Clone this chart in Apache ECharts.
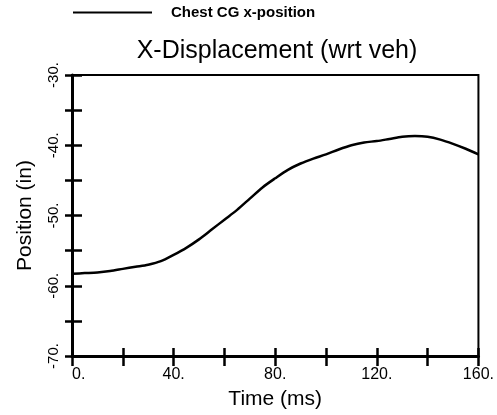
<!DOCTYPE html>
<head>
    <meta charset="utf-8">
    <title>X-Displacement</title>
    <script src="https://cdn.jsdelivr.net/npm/echarts@6/dist/echarts.min.js"></script>
    <style>
        html, body { margin: 0; padding: 0; background: #fff; }
        #chart { width: 497px; height: 415px; }
    </style>
</head>
<body>
    <div id="chart"></div>
    <script type="text/javascript">
        // time (ms) and chest CG x-position (in)
        var time_ms = [0, 5, 10, 15, 20, 25, 30, 35, 40, 45, 50, 55, 60, 65, 70, 75, 80,
                       85, 90, 95, 100, 105, 110, 115, 120, 125, 130, 135, 140, 145, 150, 155, 160];
        var chest_x = [-58.3, -58.2, -58.1, -57.9, -57.6, -57.3, -57.0, -56.5, -55.6, -54.6, -53.4,
                       -52.0, -50.6, -49.2, -47.6, -46.0, -44.7, -43.5, -42.6, -41.9, -41.3, -40.6,
                       -40.0, -39.6, -39.4, -39.1, -38.8, -38.7, -38.8, -39.2, -39.8, -40.5, -41.3];
        var xTicks = [0, 40, 80, 120, 160];
        var yTicks = [-70, -60, -50, -40, -30];

        var data = [];
        for (var i = 0; i < time_ms.length; i++) data.push([time_ms[i], chest_x[i]]);

        var font = 'Liberation Sans, Arial, Helvetica, sans-serif';
        var black = '#000';

        var myChart = echarts.init(document.getElementById('chart'));
        var option = {
            animation: false,
            title: {
                text: 'X-Displacement (wrt veh)',
                left: 272, top: 34, textAlign: 'center',
                textStyle: { fontFamily: font, fontSize: 25, fontWeight: 'normal', color: black }
            },
            legend: {
                left: 73, top: 5, padding: 0,
                icon: 'rect', itemWidth: 79, itemHeight: 2, itemGap: 20,
                data: ['Chest CG x-position'],
                textStyle: { fontFamily: font, fontSize: 15, fontWeight: 'bold', color: black, padding: [0, 0, 0, 14] }
            },
            grid: {
                left: 72, right: 17, top: 75, bottom: 59,
                show: true, borderColor: black, borderWidth: 2, backgroundColor: 'transparent'
            },
            xAxis: [
                {
                    type: 'value', min: 0, max: 160, interval: 20,
                    name: 'Time (ms)', nameLocation: 'middle', nameGap: 33,
                    nameTextStyle: { fontFamily: font, fontSize: 21, color: black },
                    axisLine: { show: true, lineStyle: { color: black, width: 3 } },
                    axisTick: { show: true, inside: false, length: 10, lineStyle: { color: black, width: 2.5 } },
                    axisLabel: {
                        margin: 11, fontFamily: font, fontSize: 16, color: black,
                        alignMinLabel: 'left',
                        formatter: function (v) { return xTicks.indexOf(v) >= 0 ? v + '.' : ''; }
                    },
                    splitLine: { show: false }
                },
                {
                    type: 'value', min: 0, max: 160, interval: 20, position: 'bottom',
                    axisLine: { show: false },
                    axisTick: { show: true, inside: true, length: 8, lineStyle: { color: black, width: 2.5 } },
                    axisLabel: { show: false },
                    splitLine: { show: false }
                }
            ],
            yAxis: [
                {
                    type: 'value', min: -70, max: -30, interval: 5,
                    name: 'Position (in)', nameLocation: 'middle', nameGap: 36, nameRotate: 90,
                    nameTextStyle: { fontFamily: font, fontSize: 21, color: black },
                    axisLine: { show: true, lineStyle: { color: black, width: 3 } },
                    axisTick: { show: true, inside: false, length: 7, lineStyle: { color: black, width: 2.5 } },
                    axisLabel: {
                        rotate: 90, margin: 11, fontFamily: font, fontSize: 15, color: black,
                        formatter: function (v) { return yTicks.indexOf(v) >= 0 ? v + '.' : ''; }
                    },
                    splitLine: { show: false }
                },
                {
                    type: 'value', min: -70, max: -30, interval: 5, position: 'left',
                    axisLine: { show: false },
                    axisTick: { show: true, inside: true, length: 10, lineStyle: { color: black, width: 2.5 } },
                    axisLabel: { show: false },
                    splitLine: { show: false }
                }
            ],
            series: [
                {
                    name: 'Chest CG x-position',
                    type: 'line',
                    data: data,
                    smooth: 0.3,
                    symbol: 'none',
                    lineStyle: { color: black, width: 2.5 },
                    itemStyle: { color: black }
                }
            ]
        };
        myChart.setOption(option);
    </script>
</body>
